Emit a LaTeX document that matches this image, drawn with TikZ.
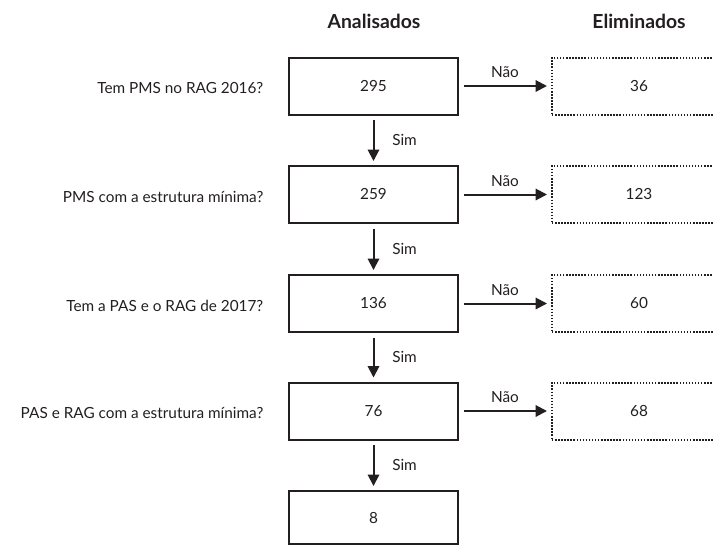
\documentclass[tikz,border=0pt]{standalone}
\usepackage{fontspec}
\setmainfont{Lato}
\usetikzlibrary{arrows.meta}
\definecolor{ink}{HTML}{231F20}

\begin{document}
\begin{tikzpicture}[x=0.75pt,y=-0.75pt,
    every node/.style={font=\fontsize{11.5}{14}\selectfont, text=ink},
    kept/.style={draw=ink, line width=1.5pt, minimum width=126.75pt, minimum height=42.75pt, inner sep=0pt},
    dropped/.style={draw=ink, line width=1.5pt, dash pattern=on 1.1pt off 1.2pt, minimum width=130.5pt, minimum height=42.75pt, inner sep=0pt},
    question/.style={anchor=east},
    header/.style={font=\fontsize{14.5}{17}\selectfont\bfseries},
    flow/.style={draw=ink, line width=1.5pt, -{Triangle[length=8.5pt,width=8.5pt]}, shorten <=3.5pt, shorten >=3pt}]

        \useasboundingbox (0,0) rectangle (713,546);
        \clip (0,0) rectangle (713,546);

        % headers
        \node[header] (hdrA) at (374,21) {Analisados};
        \node[header] (hdrE) at (639,21) {Eliminados};

        % analysed column
        \node[kept] (b1) at (373.5,86) {295};
        \node[kept] (b2) at (373.5,194.5) {259};
        \node[kept] (b3) at (373.5,303.5) {136};
        \node[kept] (b4) at (373.5,411) {76};
        \node[kept, minimum height=39.75pt] (b5) at (373.5,517.5) {8};

        % eliminated column
        \node[dropped] (e1) at (639,86) {36};
        \node[dropped] (e2) at (639,194.5) {123};
        \node[dropped] (e3) at (639,303.5) {60};
        \node[dropped] (e4) at (639,411) {68};

        % questions
        \node[question] (q1) at (268,88) {Tem PMS no RAG 2016?};
        \node[question] (q2) at (268,196.5) {PMS com a estrutura m\'inima?};
        \node[question] (q3) at (268,305.5) {Tem a PAS e o RAG de 2017?};
        \node[question] (q4) at (268,413) {PAS e RAG com a estrutura m\'inima?};

        % yes arrows
        \draw[flow] (b1) -- (b2) node[midway, right=10pt] {Sim};
        \draw[flow] (b2) -- (b3) node[midway, right=10pt] {Sim};
        \draw[flow] (b3) -- (b4) node[midway, right=10pt] {Sim};
        \draw[flow] (b4) -- (b5) node[midway, right=10pt] {Sim};

        % no arrows
        \draw[flow] (b1) -- (e1) node[midway, above=2pt] {N\~ao};
        \draw[flow] (b2) -- (e2) node[midway, above=2pt] {N\~ao};
        \draw[flow] (b3) -- (e3) node[midway, above=2pt] {N\~ao};
        \draw[flow] (b4) -- (e4) node[midway, above=2pt] {N\~ao};
\end{tikzpicture}
\end{document}
